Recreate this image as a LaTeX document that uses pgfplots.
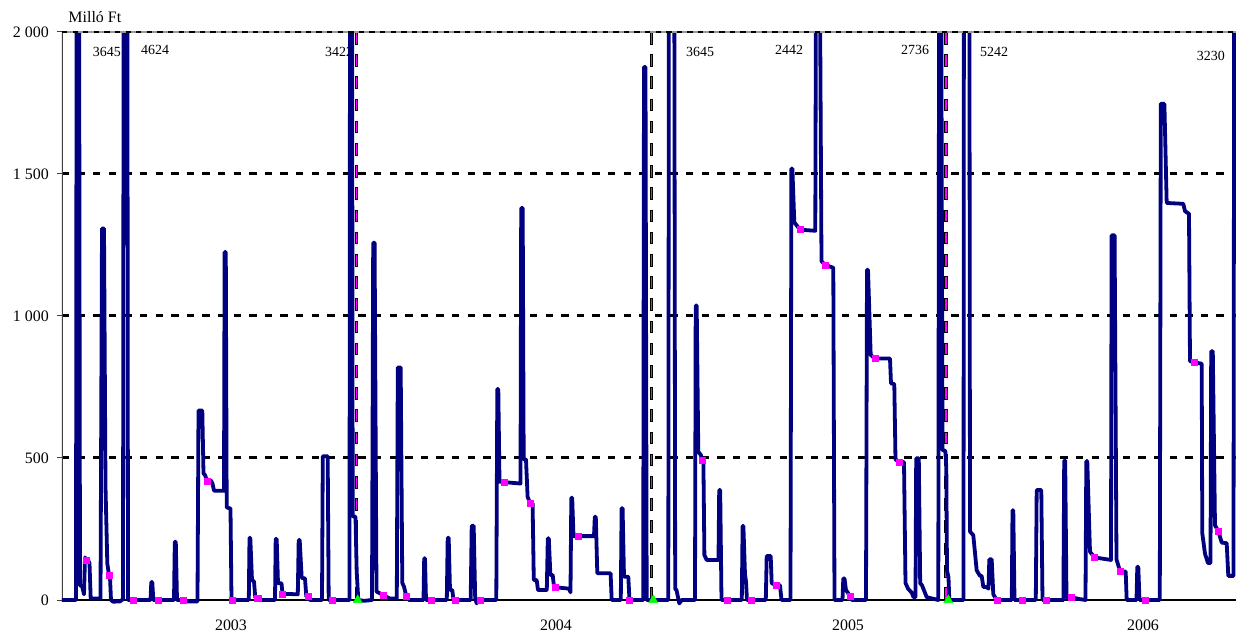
\documentclass[border=0pt]{standalone}
\usepackage{fontspec}
\setmainfont{Liberation Serif}
\usepackage{pgfplots}
\pgfplotsset{compat=1.18}
\definecolor{navyline}{RGB}{0,0,128}
\definecolor{mag}{RGB}{255,0,255}
\definecolor{grn}{RGB}{0,255,0}
\definecolor{axgray}{RGB}{64,64,64}
\begin{document}
\begin{tikzpicture}
\path[use as bounding box] (-62bp,-24.64bp) rectangle (1174bp,611.36bp);
\begin{axis}[name=ax, at={(0,0)}, anchor=south west, scale only axis,
  width=1174bp, height=579.36bp,
  xmin=62, xmax=1236, ymin=-40, ymax=2000,
  axis line style={draw=none},
  ytick={0,500,1000,1500,2000},
  yticklabels={0,500,1\ 000,1\ 500,2\ 000},
  xtick={231,556,848,1143},
  xticklabels={2003,2004,2005,2006},
  xtick style={draw=none},
  ytick pos=left,
  tick align=outside, major tick length=5bp,
  ytick style={color=axgray, line width=1bp},
  ticklabel style={font=\fontsize{16}{19}\selectfont},
  yticklabel style={anchor=east, inner sep=0pt, xshift=-8bp},
  xticklabel style={anchor=base, inner sep=0pt, yshift=-14.6bp},
  clip=true,
]
% gridlines
\addplot[forget plot, black, line width=3bp, dash pattern=on 7.3bp off 8.3bp] coordinates {(62,500)(1236,500)};
\addplot[forget plot, black, line width=3bp, dash pattern=on 7.3bp off 8.3bp] coordinates {(62,1000)(1236,1000)};
\addplot[forget plot, black, line width=3bp, dash pattern=on 7.3bp off 8.3bp] coordinates {(62,1500)(1236,1500)};
% axes lines
\addplot[forget plot, black, line width=1.3bp] coordinates {(62,0)(1236,0)};
\addplot[forget plot, axgray, line width=2.5bp] coordinates {(62,0)(62,2000)};
% vertical dashed markers
\addplot[forget plot, black, line width=3.6bp, dash pattern=on 12.7bp off 9.5bp] coordinates {(356.7,2000)(356.7,0)};
\addplot[forget plot, mag, line width=1.6bp, dash pattern=on 10.7bp off 11.5bp, dash phase=21.2bp] coordinates {(356.7,2000)(356.7,0)};
\addplot[forget plot, black, line width=3.6bp, dash pattern=on 12.7bp off 9.5bp] coordinates {(651.7,2000)(651.7,0)};
\addplot[forget plot, mag, line width=1.6bp, dash pattern=on 10.7bp off 11.5bp, dash phase=21.2bp] coordinates {(651.7,2000)(651.7,0)};
\addplot[forget plot, black, line width=3.6bp, dash pattern=on 12.7bp off 9.5bp] coordinates {(946,2000)(946,0)};
\addplot[forget plot, mag, line width=1.6bp, dash pattern=on 10.7bp off 11.5bp, dash phase=21.2bp] coordinates {(946,2000)(946,0)};
% main series
\addplot[navyline, line width=3.8bp, line join=round, line cap=round, mark=none] coordinates {
(62,0)(76,0)(77,3645)(78.5,3645)(80,50)(82,50)(84,20)(85,150)(86,141)(88,140)(89.5,130)(90.7,5)(100.5,5)
(102,1308)(104,1308)(105.5,400)(107.3,129)(109,88)(110,80)(111,0)(113,-6)(120,-5)(123,3)
(124.3,4624)(126.7,4624)(128,0)(150.5,0)(151.3,63)(152.3,63)(153.3,0)(174,0)(174.8,205)(175.8,205)(177,0)
(183,0)(186,-5)(197.5,-5)(198.5,667)(202.3,667)(203.5,446)(205,440)(206.5,425)(211,420)(212.5,410)(214,385)(224,385)
(224.6,1225)(225.8,1225)(226.7,326)(230.5,322)(231.5,0)(248.8,0)(249.5,219)(250.3,219)(252,70)(254,65)(255.3,8)(258,8)(260,0)
(275,0)(275.7,215)(276.7,215)(278,59)(281.5,59)(282.5,22)(297.8,20)(298.7,211)(299.7,211)(301.7,78)(305,76)(306.3,12)(308,12)(310,0)
(322,0)(322.8,506)(327.7,506)(328.7,0)(349.5,0)(350.3,3422)(351.7,3422)(352.7,295)(355.5,293)(356.7,100)(358.3,0)(364,-3)(372,0)
(373.2,1258)(374.6,1258)(376.5,30)(382.7,18)(390,5)(396.8,5)(397.8,819)(400.7,819)(402.3,60)(404,47)(406.3,14)(409,0)
(423.5,0)(424.2,147)(425,147)(426,0)(446.8,0)(447.7,219)(448.7,219)(450,35)(452.3,35)(453.5,0)
(470.7,0)(471.7,261)(473.7,261)(475.2,5)(476.7,-12)(478,0)(496.3,0)(497.3,743)(498.3,743)(499.5,417)(504.3,415)(520.5,410)
(521.2,1380)(522.7,1380)(523.7,495)(526,495)(527.6,364)(530,340)(532.6,340)(533.8,70)(536.7,70)(538,35)(546.8,35)
(547.8,217)(548.8,217)(550.4,88)(552.7,88)(554,47)(555,45)(569,40)(570.5,27)(571.3,360)(572.2,360)(573.5,225)(594,225)
(594.8,293)(595.8,293)(597.3,94)(610.6,94)(611.7,0)(620.8,0)(621.6,323)(622.6,323)(624,82)(628.3,82)(629.5,0)
(643.2,0)(644,1877)(645.5,1877)(646.7,0)(668.3,0)(669.3,3645)(673.7,3645)(675.2,39)(676.5,35)(679.3,-12)(681.7,0)(695,0)
(695.7,1037)(696.7,1037)(698.3,522)(701,510)(701.7,493)(703.4,490)(704.4,158)(706.7,141)(718.5,141)(719.2,387)(720.2,387)(721.5,0)
(741.8,0)(742.6,261)(743.4,261)(745,91)(746,65)(747,0)(765.8,0)(766.7,155)(770.7,155)(771.7,59)(776,53)(780,52)(781.5,0)(790.5,0)
(791.4,1519)(792.4,1519)(794.3,1330)(800,1304)(815.3,1300)(816.2,2442)(819.5,2442)(821.5,1193)(825,1180)(833.3,1170)(834.5,0)
(842.5,0)(843.3,76)(844.5,76)(846,35)(848,25)(850,12)(852,0)(866,0)(867,1163)(868,1163)(870.7,863)(875,850)(890,850)(891,763)(894.3,760)
(895.5,495)(899.3,486)(904,486)(905.5,60)(908,40)(911.7,26)(913.5,10)(915.5,10)(916.2,499)(918.8,499)(920.2,59)(922,52)(926.7,10)(938.3,0)
(939.3,2736)(940.8,2736)(942.5,528)(945.3,525)(946.3,470)(947,104)(948.5,80)(949.3,0)(963.5,0)
(964.5,5242)(968.5,5242)(970,241)(973.3,228)(976.7,104)(980,85)(981.7,85)(983.3,46)(986.7,46)(988.5,40)(989.3,143)(991.7,143)(993.3,20)(996.7,0)
(1011.8,0)(1012.5,316)(1013.3,316)(1014.5,0)(1035.8,0)(1036.7,387)(1041.3,387)(1042.5,0)(1063.4,0)(1064.2,491)(1065.2,491)(1066.5,10)(1071,10)(1080,3)(1085.5,0)
(1086.3,489)(1087.3,489)(1090,170)(1094.5,150)(1111,141)(1111.6,1284)(1114.6,1284)(1116.5,143)(1120,102)(1125.7,100)(1126.7,0)
(1136.5,0)(1137.3,117)(1138.3,117)(1139.5,0)(1159.8,0)(1160.8,1747)(1164.4,1747)(1166.7,1398)(1183.3,1395)(1185,1369)(1189,1360)
(1190,841)(1194.3,837)(1201.7,832)(1202.3,235)(1205,163)(1208,130)(1210.5,130)(1211.2,876)(1212.8,876)(1215,263)(1218.5,241)
(1221.7,202)(1226.7,200)(1228.3,85)(1233.5,85)(1234.5,3230)(1236,3230)
};
% monthly markers
\addplot[only marks, mark=square*, mark size=3bp, color=mag] coordinates {
(86,141)(109,88)(133,0)(158.5,0)(183,0)(207,417)(232.5,0)(257.7,8)(282.5,20)(307.7,12)(332.5,0)
(382.7,18)(406.3,14)(431,0)(455.5,0)(480,0)(504.3,415)(530,340)(555,45)(577.7,225)(629.3,0)
(701.7,493)(726.7,0)(751,0)(776,53)(800,1304)(825,1180)(850,12)(875,850)(899.3,486)
(996.7,0)(1021.7,0)(1045.7,0)(1071,10)(1094.5,150)(1120,102)(1145.5,0)(1194.3,837)(1218.5,241)
};
\addplot[only marks, mark=triangle*, mark size=5.2bp, color=grn] coordinates {(357.7,0)(653.3,0)(948.3,0)};
% top line
\addplot[forget plot, gray!80, line width=3bp] coordinates {(62,2000)(1236,2000)};
\addplot[forget plot, black, line width=1.1bp, dash pattern=on 5.3bp off 5.3bp] coordinates {(62,2000)(1236,2000)};
% off-scale labels
\node[anchor=base west, inner sep=0pt, font=\fontsize{14}{16}\selectfont] at (axis cs:92.7,1915) {3645};
\node[anchor=base west, inner sep=0pt, font=\fontsize{14}{16}\selectfont] at (axis cs:141,1922) {4624};
\node[anchor=base west, inner sep=0pt, font=\fontsize{14}{16}\selectfont] at (axis cs:325,1913) {3422};
\node[anchor=base west, inner sep=0pt, font=\fontsize{14}{16}\selectfont] at (axis cs:686,1913) {3645};
\node[anchor=base west, inner sep=0pt, font=\fontsize{14}{16}\selectfont] at (axis cs:775,1922) {2442};
\node[anchor=base west, inner sep=0pt, font=\fontsize{14}{16}\selectfont] at (axis cs:901,1922) {2736};
\node[anchor=base west, inner sep=0pt, font=\fontsize{14}{16}\selectfont] at (axis cs:980,1913) {5242};
\node[anchor=base west, inner sep=0pt, font=\fontsize{14}{16}\selectfont] at (axis cs:1196.7,1901) {3230};
\end{axis}
\node[anchor=base west, inner sep=0pt, font=\fontsize{16}{19}\selectfont] at ([xshift=6.3bp, yshift=9.3bp]ax.north west) {Milló Ft};
\end{tikzpicture}
\end{document}
